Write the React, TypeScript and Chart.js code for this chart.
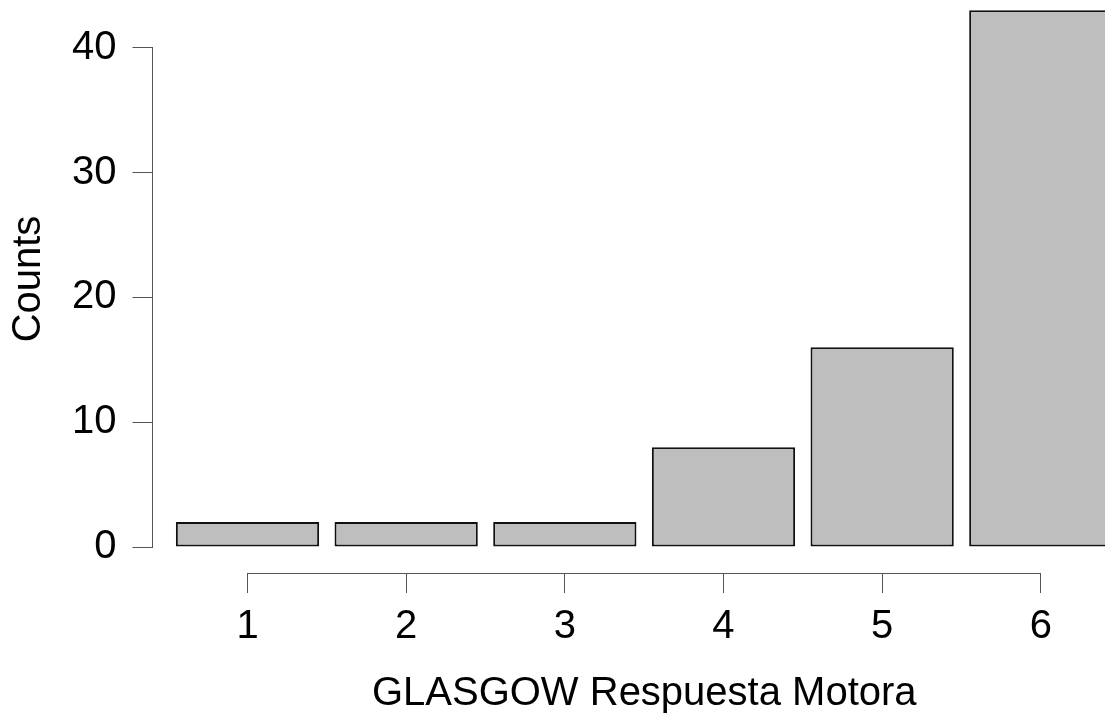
import React, { useEffect, useRef } from "react";
import { Chart, registerables } from "chart.js";

Chart.register(...registerables);

// Response categories and how many cases fall in each
const CATEGORIES = [1, 2, 3, 4, 5, 6];
const COUNTS = [2, 2, 2, 8, 16, 43];

// Axis tick values and titles
const X_TICKS = [1, 2, 3, 4, 5, 6];
const Y_TICKS = [0, 10, 20, 30, 40];
const X_TITLE = "GLASGOW Respuesta Motora";
const Y_TITLE = "Counts";

const FONT = "'Liberation Sans', Arial, Helvetica, sans-serif";
const AXIS_COLOR = "#555555";
const BAR_FILL = "#bebebe";
const BAR_EDGE = "#111111";

// Canvas geometry (the canvas is a little larger than the visible frame,
// so the plot region can run past the frame edges like a base-R plot)
const FRAME_W = 1105;
const FRAME_H = 717;
const CANVAS_W = 1136;
const CANVAS_TOP = -60;
const CANVAS_H = FRAME_H - CANVAS_TOP;

const X_MIN = 0.4012;
const X_MAX = 6.6;
const Y_MIN = -2.083;
const Y_MAX = 45.03;

const align = (p: number) => Math.round(p - 0.5) + 0.5;

// Base-R style axis lines: only span from the first to the last tick
const axisLines = {
  id: "axisLines",
  afterDraw(chart: any) {
    const { ctx, chartArea, scales } = chart;
    const xs = scales.x;
    const ys = scales.y;
    ctx.save();
    ctx.strokeStyle = AXIS_COLOR;
    ctx.lineWidth = 1;
    ctx.beginPath();
    const yb = align(chartArea.bottom);
    ctx.moveTo(align(xs.getPixelForValue(X_TICKS[0])), yb);
    ctx.lineTo(align(xs.getPixelForValue(X_TICKS[X_TICKS.length - 1])), yb);
    const xl = align(chartArea.left);
    ctx.moveTo(xl, align(ys.getPixelForValue(Y_TICKS[0])));
    ctx.lineTo(xl, align(ys.getPixelForValue(Y_TICKS[Y_TICKS.length - 1])));
    ctx.stroke();
    ctx.restore();
  },
};

export default function App() {
  const canvasRef = useRef<HTMLCanvasElement | null>(null);

  useEffect(() => {
    const canvas = canvasRef.current;
    if (!canvas) return;
    const tickFont = { family: FONT, size: 40, lineHeight: 1 };

    const chart = new Chart(canvas, {
      type: "bar",
      data: {
        datasets: [
          {
            data: CATEGORIES.map((c, i) => ({ x: c, y: COUNTS[i] })),
            backgroundColor: BAR_FILL,
            borderColor: BAR_EDGE,
            borderWidth: 2,
            borderSkipped: false,
            barPercentage: 0.903,
            categoryPercentage: 1,
          },
        ],
      },
      options: {
        responsive: false,
        animation: false,
        devicePixelRatio: 1,
        layout: { padding: { top: 45, left: 0, right: 0, bottom: 0 } },
        plugins: {
          legend: { display: false },
          tooltip: { enabled: false },
        },
        scales: {
          x: {
            type: "linear",
            offset: false,
            min: X_MIN,
            max: X_MAX,
            afterBuildTicks: (s: any) => {
              s.ticks = X_TICKS.map((v) => ({ value: v }));
            },
            afterFit: (s: any) => {
              s.height = 144;
            },
            ticks: {
              font: tickFont,
              color: "#000000",
              padding: 13.5,
              maxRotation: 0,
              autoSkip: false,
              callback: (v: any) => String(v),
            },
            grid: {
              offset: false,
              drawOnChartArea: false,
              drawTicks: true,
              tickLength: 20,
              color: AXIS_COLOR,
              lineWidth: 1,
            },
            border: { display: false },
            title: {
              display: true,
              text: X_TITLE,
              font: tickFont,
              color: "#000000",
              padding: { top: 0, bottom: 2.7 },
            },
          },
          y: {
            type: "linear",
            min: Y_MIN,
            max: Y_MAX,
            afterBuildTicks: (s: any) => {
              s.ticks = Y_TICKS.map((v) => ({ value: v }));
            },
            afterFit: (s: any) => {
              s.width = 152.5;
            },
            ticks: {
              font: tickFont,
              color: "#000000",
              padding: 16,
              autoSkip: false,
              callback: (v: any) => String(v),
            },
            grid: {
              drawOnChartArea: false,
              drawTicks: true,
              tickLength: 20,
              color: AXIS_COLOR,
              lineWidth: 1,
            },
            border: { display: false },
            title: {
              display: true,
              text: Y_TITLE,
              font: tickFont,
              color: "#000000",
              padding: { top: 8.6, bottom: 0 },
            },
          },
        },
      },
      plugins: [axisLines],
    } as any);

    return () => chart.destroy();
  }, []);

  return (
    <div
      style={{
        position: "fixed",
        left: 0,
        top: 0,
        width: FRAME_W,
        height: FRAME_H,
        overflow: "hidden",
        background: "#ffffff",
      }}
    >
      <canvas
        ref={canvasRef}
        width={CANVAS_W}
        height={CANVAS_H}
        style={{ position: "absolute", left: 0, top: CANVAS_TOP, display: "block" }}
      />
    </div>
  );
}
